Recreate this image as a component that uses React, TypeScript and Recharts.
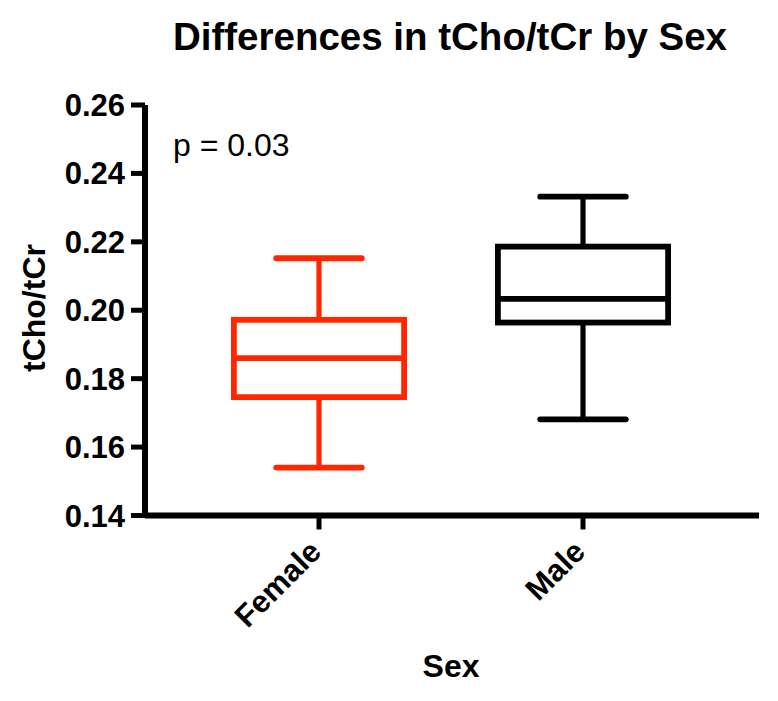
import React from "react";
import { BarChart, Bar, XAxis, YAxis } from "recharts";

const categories = ["Female", "Male"];
const mins = [0.154, 0.1681];
const q1s = [0.1746, 0.1964];
const medians = [0.186, 0.2033];
const q3s = [0.1972, 0.2186];
const maxs = [0.2152, 0.2332];
const colors = ["#FF2600", "#000000"];
const yTicks = [0.14, 0.16, 0.18, 0.2, 0.22, 0.24, 0.26];
const titleText = "Differences in tCho/tCr by Sex";
const pText = "p = 0.03";
const yLabel = "tCho/tCr";
const xLabel = "Sex";

const data = categories.map((name, i) => ({
  name,
  min: mins[i],
  q1: q1s[i],
  median: medians[i],
  q3: q3s[i],
  max: maxs[i],
  color: colors[i],
}));

const FONT = "'Liberation Sans', Arial, Helvetica, sans-serif";

const BoxShape = (props: any) => {
  const { x, y, width, height, payload } = props;
  const top = Math.min(y, y + height);
  const h = Math.abs(height);
  const { min, q1, median, q3, max, color } = payload;
  const k = h / (max - min);
  const py = (v: number) => top + (max - v) * k;
  const cx = x + width / 2;
  const sw = 5.8;
  const capHalf = width * 0.243;
  return (
    <g stroke={color} strokeWidth={sw} fill="none">
      <line x1={cx} x2={cx} y1={py(max)} y2={py(q3)} strokeWidth={5.2} />
      <line x1={cx} x2={cx} y1={py(q1)} y2={py(min)} strokeWidth={5.2} />
      <line x1={cx - capHalf} x2={cx + capHalf} y1={py(max)} y2={py(max)} strokeLinecap="round" />
      <line x1={cx - capHalf} x2={cx + capHalf} y1={py(min)} y2={py(min)} strokeLinecap="round" />
      <rect x={x + sw / 2} y={py(q3)} width={width - sw} height={py(q1) - py(q3)} fill="#ffffff" />
      <line x1={x + sw / 2} x2={x + width - sw / 2} y1={py(median)} y2={py(median)} />
    </g>
  );
};

const XTick = (props: any) => {
  const { x, y, payload } = props;
  return (
    <g transform={`translate(${x + 4},${y + 22})`}>
      <text
        x={0}
        y={0}
        textAnchor="end"
        transform="rotate(-45)"
        fontFamily={FONT}
        fontWeight="bold"
        fontSize={31}
        fill="#000"
      >
        {payload.value}
      </text>
    </g>
  );
};

export default function App() {
  return (
    <div style={{ position: "absolute", left: 0, top: 0, width: 778, height: 701, background: "#fff" }}>
      <BarChart
        width={778}
        height={701}
        data={data}
        margin={{ top: 105, right: 19, bottom: 0, left: 0 }}
      >
        <XAxis
          dataKey="name"
          type="category"
          padding={{ left: 42, right: 44 }}
          height={185.5}
          axisLine={{ stroke: "#000", strokeWidth: 6 }}
          tickLine={{ stroke: "#000", strokeWidth: 5 }}
          tickSize={14}
          tick={<XTick />}
          interval={0}
        />
        <YAxis
          type="number"
          domain={[0.14, 0.26]}
          ticks={yTicks}
          width={145}
          axisLine={{ stroke: "#000", strokeWidth: 6 }}
          tickLine={{ stroke: "#000", strokeWidth: 5 }}
          tickSize={14}
          tickMargin={6}
          tickFormatter={(v: number) => v.toFixed(2)}
          tick={{ fontFamily: FONT, fontWeight: "bold", fontSize: 31, fill: "#000" }}
          allowDataOverflow
        />
        <Bar
          dataKey={(d: any) => [d.min, d.max]}
          barSize={176}
          shape={<BoxShape />}
          isAnimationActive={false}
        />
      </BarChart>
      <svg
        width={778}
        height={701}
        style={{ position: "absolute", left: 0, top: 0, pointerEvents: "none" }}
      >
        <text x={450} y={50} textAnchor="middle" fontFamily={FONT} fontWeight="bold" fontSize={38.5} fill="#000">
          {titleText}
        </text>
        <text x={173} y={156} fontFamily={FONT} fontSize={32} fill="#000">
          {pText}
        </text>
        <text
          transform="translate(45,308) rotate(-90)"
          textAnchor="middle"
          fontFamily={FONT}
          fontWeight="bold"
          fontSize={32}
          fill="#000"
        >
          {yLabel}
        </text>
        <text x={451} y={677} textAnchor="middle" fontFamily={FONT} fontWeight="bold" fontSize={32} fill="#000">
          {xLabel}
        </text>
      </svg>
    </div>
  );
}
